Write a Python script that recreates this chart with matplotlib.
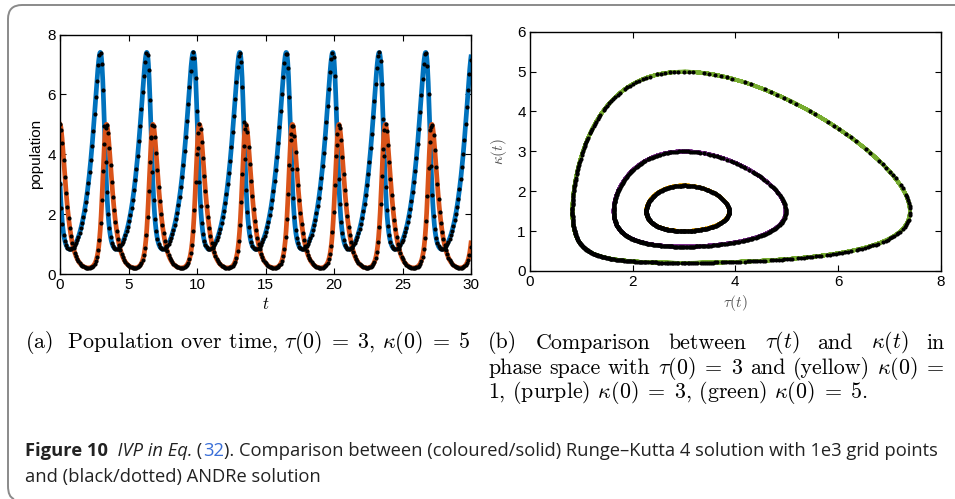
import numpy as np
import matplotlib
matplotlib.use("Agg")
import matplotlib.pyplot as plt
from matplotlib.path import Path
from matplotlib.patches import PathPatch

plt.rcParams['mathtext.fontset'] = 'cm'

# Lotka-Volterra model: dtau = a*tau - b*tau*kappa, dkappa = -c*kappa + d*tau*kappa
rates = [1.5, 1.0, 3.0, 1.0]
tau0 = 3.0
kappa0_list = [1.0, 3.0, 5.0]          # yellow, purple, green
t_end = 30.0
n_grid = 1000                          # RK4 grid points (caption: 1e3)
dot_every = 3                          # ANDRe dots shown on a coarser grid

line_cols = ['#0072BD', '#D95319']
phase_cols = ['#EDB120', '#7E2F8E', '#77AC30']


def rhs(y):
    a, b, c, d = rates
    return np.array([a*y[0] - b*y[0]*y[1], -c*y[1] + d*y[0]*y[1]])


def rk4(y0):
    t = np.linspace(0, t_end, n_grid + 1)
    h = t[1] - t[0]
    ys = np.zeros((len(t), 2))
    ys[0] = y0
    for i in range(len(t) - 1):
        y = ys[i]
        k1 = rhs(y)
        k2 = rhs(y + h/2*k1)
        k3 = rhs(y + h/2*k2)
        k4 = rhs(y + h*k3)
        ys[i+1] = y + h/6*(k1 + 2*k2 + 2*k3 + k4)
    return t, ys


W, H = 955, 499
fig = plt.figure(figsize=(W/100, H/100), dpi=100)

def px(x0, y0, x1, y1):
    return [x0/W, 1 - y1/H, (x1-x0)/W, (y1-y0)/H]

tick_font = dict(family='Liberation Sans', size=11)

# ---- (a) time plot
ax1 = fig.add_axes(px(60, 34.5, 471, 274))
t, ys = rk4([tau0, kappa0_list[2]])
ax1.plot(t, ys[:, 0], color=line_cols[0], lw=3.4)
ax1.plot(t, ys[:, 1], color=line_cols[1], lw=3.4)
ax1.plot(t[::dot_every], ys[::dot_every, 0], 'o', color='k', ms=3.0, mec='none')
ax1.plot(t[::dot_every], ys[::dot_every, 1], 'o', color='k', ms=3.0, mec='none')
ax1.set_xlim(0, 30)
ax1.set_ylim(0, 8)
ax1.set_xticks(np.arange(0, 31, 5))
ax1.set_yticks(np.arange(0, 9, 2))
ax1.set_ylabel('population', fontdict=tick_font, labelpad=3)
ax1.set_xlabel(r'$t$', fontsize=12, labelpad=2)

# ---- (b) phase plot
ax2 = fig.add_axes(px(530, 31.7, 940.7, 271))
for k0, col in zip(kappa0_list, phase_cols):
    t, ys = rk4([tau0, k0])
    ax2.plot(ys[:, 0], ys[:, 1], color=col, lw=2.6)
    ax2.plot(ys[::dot_every, 0], ys[::dot_every, 1], 'o', color='k', ms=3.0, mec='none')
ax2.set_xlim(0, 8)
ax2.set_ylim(0, 6)
ax2.set_xticks(np.arange(0, 9, 2))
ax2.set_yticks(np.arange(0, 7, 1))
ax2.set_ylabel(r'$\kappa(t)$', fontsize=11, color='#555555', labelpad=6)
ax2.set_xlabel(r'$\tau(t)$', fontsize=11, color='#555555', labelpad=3)

for ax in (ax1, ax2):
    ax.tick_params(direction='in', top=True, right=True, length=4, width=0.8,
                   labelsize=11, pad=3)
    for lab in ax.get_xticklabels() + ax.get_yticklabels():
        lab.set_fontfamily('Liberation Sans')
    for s in ax.spines.values():
        s.set_linewidth(1.0)

# ---- frame
verts = [(W, 5), (22, 5), (8, 5), (8, 19), (8, 486), (8, 497), (14, 499)]
codes = [Path.MOVETO, Path.LINETO, Path.CURVE3, Path.CURVE3, Path.LINETO, Path.CURVE3, Path.CURVE3]
verts = [(x/W, 1 - y/H) for x, y in verts]
fig.add_artist(PathPatch(Path(verts, codes), fill=False, edgecolor='#8a8a8a', lw=1.4,
                         transform=fig.transFigure))

# ---- sub-captions
fig.canvas.draw()
rend = fig.canvas.get_renderer()

EQ = r'\;=\;'
cap_a = fig.text(25/W, 1 - 343/H, r'(a)  Population over time, $\tau(0)' + EQ + r'3$, $\kappa(0)' + EQ + r'5$',
                 family='cmr10', size=12, va='center')
cap_size = 12 * 446 / cap_a.get_window_extent(rend).width
cap_a.set_fontsize(cap_size)
cap = dict(family='cmr10', size=cap_size, va='center')


def justify(words, x0, x1, y):
    txts = [fig.text(0, 1 - y/H, w, **cap) for w in words]
    widths = [tx.get_window_extent(rend).width for tx in txts]
    gap = (x1 - x0 - sum(widths)) / (len(words) - 1)
    x = x0
    for tx, w in zip(txts, widths):
        tx.set_x(x/W)
        x += w + gap

justify(['(b)', 'Comparison', 'between', r'$\tau(t)$', 'and', r'$\kappa(t)$', 'in'], 488, 945, 343)
justify(['phase', 'space', 'with', r'$\tau(0)' + EQ + r'3$', 'and', '(yellow)', r'$\kappa(0)\;=$'], 488, 945, 368)
fig.text(488/W, 1 - 393/H, r'1, (purple) $\kappa(0)' + EQ + r'3$, (green) $\kappa(0)' + EQ + r'5$.', **cap)

# ---- figure caption
pieces = [('Figure 10', dict(weight='bold'), '#222222'),
          ('  IVP in Eq.', dict(style='italic'), '#222222'),
          (' (', {}, '#222222'),
          ('32', {}, '#3a6fd8'),
          ('). Comparison between (coloured/solid) Runge\u2013Kutta 4 solution with 1e3 grid points', {}, '#222222')]
fs = 12.2
txts = []
for s, kw, col in pieces:
    txts.append(fig.text(0, 1 - 451/H, s, family='Open Sans', size=fs, color=col, va='center', **kw))
total = sum(tx.get_window_extent(rend).width for tx in txts)
fs = fs * 914 / total
x = 25
for tx in txts:
    tx.set_fontsize(fs)
    tx.set_x(x/W)
    x += tx.get_window_extent(rend).width
fig.text(25/W, 1 - 477/H, 'and (black/dotted) ANDRe solution', family='Open Sans', size=fs,
         color='#222222', va='center')

fig.savefig('out.png', dpi=100)
